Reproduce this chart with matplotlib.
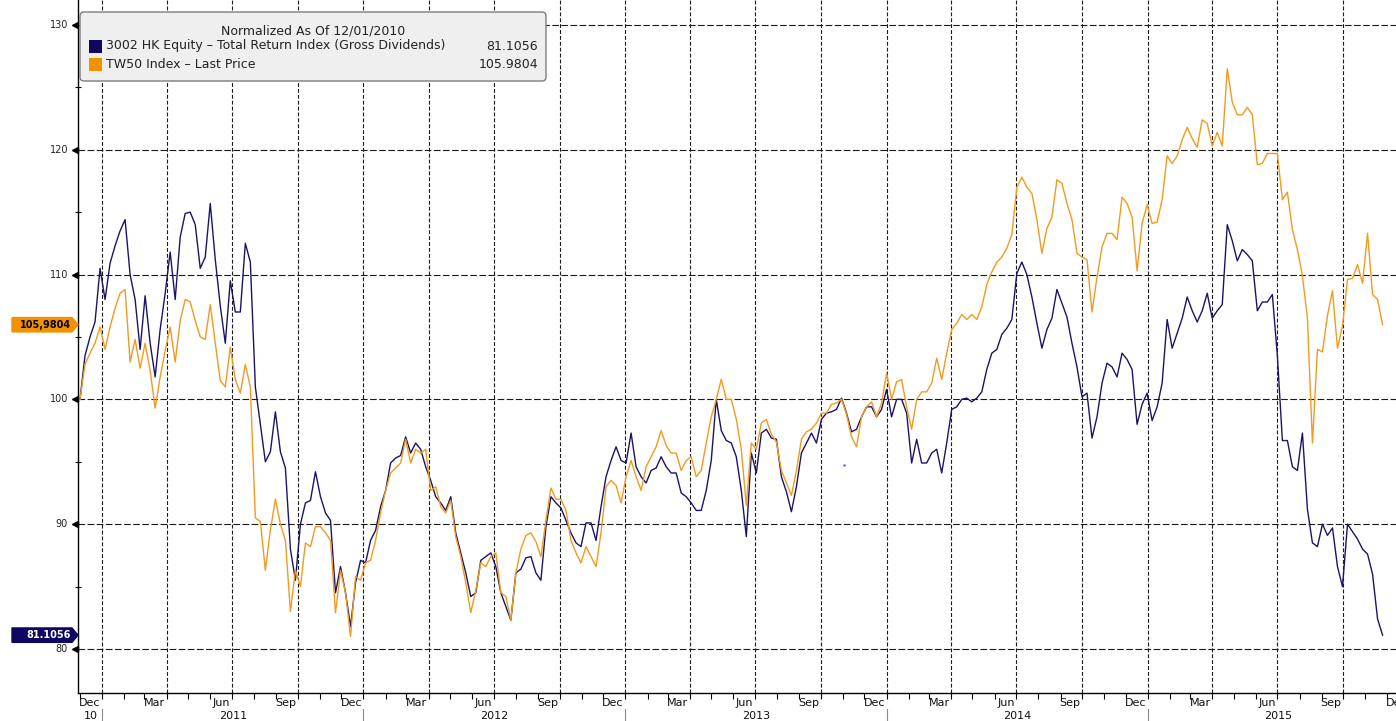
import numpy as np
import pandas as pd
import matplotlib
matplotlib.use("Agg")
import matplotlib.pyplot as plt
import matplotlib.dates as mdates
import matplotlib.transforms as mtransforms
from matplotlib.patches import FancyBboxPatch, Polygon, Rectangle
from matplotlib.lines import Line2D

# ---------------- data (weekly readings, normalized to 100 on 2010-12-01) ----------------
START_DATE = "2010-12-01"
STEP = "7D"

equity_values = [
    100.0, 103.5, 105.0, 106.2, 110.5, 108.0, 110.9, 112.3, 113.5, 114.4,
    110.0, 108.0, 104.0, 108.3, 104.5, 101.8, 105.6, 108.5, 111.8, 108.0,
    113.0, 114.9, 115.0, 114.0, 110.5, 111.4, 115.7, 111.2, 107.5, 104.5,
    109.5, 107.0, 107.0, 112.5, 111.0, 101.0, 98.0, 95.0, 95.8, 99.0,
    95.8, 94.5, 88.0, 85.5, 90.0, 91.7, 91.9, 94.2, 92.2, 90.9,
    90.3, 84.5, 86.6, 84.5, 81.8, 85.3, 87.1, 86.9, 88.7, 89.5,
    91.4, 92.7, 94.9, 95.3, 95.5, 97.0, 95.7, 96.5, 96.0, 94.6,
    93.5, 92.2, 91.7, 91.1, 92.2, 89.3, 87.7, 86.1, 84.2, 84.5,
    87.1, 87.4, 87.7, 86.6, 84.5, 83.4, 82.3, 86.1, 86.4, 87.3,
    87.4, 86.1, 85.5, 89.8, 92.2, 91.7, 91.3, 90.3, 89.3, 88.5,
    88.2, 90.1, 90.1, 88.7, 91.4, 93.8, 95.1, 96.2, 95.1, 94.9,
    97.3, 94.6, 93.8, 93.3, 94.3, 94.5, 95.4, 94.6, 94.1, 94.1,
    92.5, 92.2, 91.7, 91.1, 91.1, 92.7, 95.1, 100.0, 97.5, 96.7,
    96.5, 95.4, 92.7, 89.0, 95.7, 94.1, 97.3, 97.6, 96.9, 96.8,
    93.8, 92.6, 91.0, 93.0, 95.7, 96.5, 97.3, 96.5, 98.4, 98.9,
    99.0, 99.2, 100.1, 98.9, 97.4, 97.6, 98.6, 99.4, 99.4, 98.6,
    99.2, 100.8, 98.6, 100.0, 100.0, 98.9, 94.9, 96.8, 94.9, 94.9,
    95.7, 96.0, 94.1, 96.5, 99.2, 99.4, 100.0, 100.1, 99.8, 100.1,
    100.6, 102.4, 103.7, 104.0, 105.2, 105.7, 106.4, 110.1, 111.0, 110.0,
    108.2, 106.1, 104.1, 105.6, 106.5, 108.8, 107.7, 106.6, 104.5, 102.6,
    100.2, 100.5, 96.9, 98.6, 101.3, 102.9, 102.6, 101.8, 103.7, 103.2,
    102.4, 98.0, 99.6, 100.5, 98.3, 99.4, 101.3, 106.4, 104.1, 105.3,
    106.5, 108.2, 107.1, 106.2, 107.1, 108.5, 106.5, 107.1, 107.6, 114.0,
    112.7, 111.1, 112.0, 111.6, 111.1, 107.1, 107.8, 107.8, 108.4, 103.5,
    96.7, 96.7, 94.6, 94.3, 97.3, 91.2, 88.5, 88.2, 90.0, 89.1,
    89.7, 86.6, 85.0, 90.0, 89.4, 88.8, 88.0, 87.6, 86.0, 82.4,
    81.1056,
]

tw50_values = [
    100.0, 102.8, 103.7, 104.5, 105.8, 104.0, 105.8, 107.3, 108.5, 108.8,
    103.0, 104.8, 102.5, 104.5, 102.3, 99.3, 101.8, 103.9, 105.8, 103.0,
    106.3, 108.0, 107.8, 106.3, 105.0, 104.8, 107.6, 104.5, 101.5, 101.0,
    104.2, 101.6, 100.5, 102.8, 101.0, 90.5, 90.2, 86.3, 89.5, 92.0,
    90.0, 88.7, 83.0, 86.3, 85.0, 88.5, 88.2, 89.8, 89.8, 89.3,
    88.7, 82.9, 86.3, 84.5, 81.0, 85.8, 85.5, 86.9, 87.1, 88.7,
    90.9, 92.7, 94.1, 94.5, 94.9, 96.8, 94.9, 96.0, 95.7, 96.0,
    92.7, 93.0, 91.4, 90.9, 91.9, 89.0, 87.4, 85.3, 82.9, 84.7,
    86.9, 86.6, 87.4, 87.7, 84.5, 84.2, 82.3, 86.1, 88.0, 89.1,
    89.3, 88.6, 87.4, 90.3, 92.9, 92.0, 92.0, 91.1, 88.7, 87.7,
    86.9, 88.2, 87.4, 86.6, 89.3, 93.0, 93.5, 93.1, 91.7, 93.8,
    95.1, 93.8, 92.7, 94.6, 95.4, 96.2, 97.5, 96.3, 95.7, 95.7,
    94.3, 95.1, 95.4, 93.8, 94.3, 96.5, 98.6, 100.0, 101.6, 100.0,
    100.0, 98.4, 96.0, 91.5, 96.5, 96.0, 98.1, 98.4, 97.2, 96.6,
    94.3, 93.3, 92.3, 94.3, 96.8, 97.4, 97.6, 98.1, 98.9, 98.9,
    99.6, 99.7, 100.0, 98.8, 97.0, 96.2, 98.6, 99.4, 99.8, 98.6,
    99.7, 102.1, 100.0, 101.4, 101.6, 99.4, 97.6, 100.0, 100.6, 100.6,
    101.3, 103.3, 101.6, 103.7, 105.6, 106.1, 106.8, 106.4, 106.8, 106.4,
    107.4, 109.2, 110.2, 111.0, 111.4, 112.1, 113.2, 117.0, 117.8, 117.0,
    116.5, 114.4, 111.7, 113.7, 114.6, 117.6, 117.3, 115.7, 114.4, 111.7,
    111.4, 111.2, 107.0, 109.8, 112.2, 113.3, 113.3, 112.8, 116.2, 115.7,
    114.6, 110.3, 114.1, 115.6, 114.1, 114.2, 116.0, 119.5, 118.9, 119.5,
    120.8, 121.8, 120.9, 120.2, 122.4, 122.1, 120.3, 121.4, 120.3, 126.5,
    123.8, 122.8, 122.8, 123.4, 122.8, 118.8, 118.9, 119.7, 119.7, 119.7,
    116.0, 116.6, 113.6, 112.0, 109.9, 106.5, 96.5, 104.0, 103.8, 106.7,
    108.7, 104.1, 105.9, 109.6, 109.7, 110.8, 109.3, 113.3, 108.4, 108.0,
    105.9804,
]

stray_dates = ["2013-11-02"]
stray_values = [94.7]

series_names = ["3002 HK Equity \u2013 Total Return Index (Gross Dividends)",
                "TW50 Index \u2013 Last Price"]
legend_values = ["81.1056", "105.9804"]
tag_texts = ["81.1056", "105,9804"]
legend_title = "Normalized As Of 12/01/2010"
y_ticks = [80, 90, 100, 110, 120, 130]
y_minor = [85, 95, 105, 115, 125]
quarter_label = {1: "Dec", 4: "Mar", 7: "Jun", 10: "Sep"}
first_year_label = "10"
years = [2011, 2012, 2013, 2014, 2015]

NAVY = "#1A1466"
NAVY_BOX = "#0E0660"
ORANGE = "#F39A1E"
ORANGE_BOX = "#F29200"

# ---------------- figure ----------------
W, H = 1396, 721
fig = plt.figure(figsize=(W / 100, H / 100), dpi=100)
AX_L, AX_B_PX = 78, 693
ax = fig.add_axes([AX_L / W, (H - AX_B_PX) / H, 1 - AX_L / W, AX_B_PX / H])

dates = pd.date_range(START_DATE, periods=len(equity_values), freq=STEP)
x0 = mdates.date2num(pd.Timestamp(START_DATE))
px_per_day = 0.7157
ax.set_xlim(x0 - 2.0 / px_per_day, x0 + (W - 80) / px_per_day)
ax.set_ylim(76.47, 132.0)

# grid
qdates = pd.date_range("2011-01-01", "2016-01-01", freq="QS-JAN")
for d in qdates:
    ax.axvline(d, color="#1a1a1a", lw=0.8, dashes=(3.5, 1.8), zorder=1)
for yv in y_ticks:
    ax.axhline(yv, color="#1a1a1a", lw=0.8, dashes=(6, 2.2), zorder=1)

# series
ax.plot(dates, equity_values, color=NAVY, lw=1.0, zorder=3, solid_joinstyle="round")
ax.plot(dates, tw50_values, color=ORANGE, lw=1.0, zorder=4, solid_joinstyle="round")
ax.plot(pd.to_datetime(stray_dates), stray_values, ls="none", marker="s", ms=1.5,
        color="#3a3aff", mec="none", zorder=4)

# spines / ticks
for s in ["top", "right"]:
    ax.spines[s].set_visible(False)
ax.spines["left"].set_linewidth(1.0)
ax.spines["bottom"].set_linewidth(1.0)
ax.xaxis.set_major_locator(mdates.MonthLocator(bymonth=[1, 4, 7, 10]))
ax.xaxis.set_minor_locator(mdates.MonthLocator())
ax.tick_params(axis="x", which="both", direction="out", length=4, width=0.8,
               labelbottom=False)
ax.set_yticks(y_ticks)
ax.set_yticks(y_minor, minor=True)
ax.tick_params(axis="y", which="major", length=0, labelleft=False)
ax.tick_params(axis="y", which="minor", direction="inout", length=5, width=0.8)


def ax_x(px):
    return (px - AX_L) / (W - AX_L)


blend_y = mtransforms.blended_transform_factory(ax.transAxes, ax.transData)
for yv in y_ticks:
    ax.text(ax_x(68), yv, str(yv), transform=blend_y, ha="right", va="center",
            fontsize=7, color="#222222", clip_on=False)
ax.plot([ax_x(74.5)] * len(y_ticks), y_ticks, ls="none", marker="<", ms=4.5,
        color="black", transform=blend_y, clip_on=False)

# value tags on the left
half = 7.2 / 12.48
for val, txt, face, tc in [(tw50_values[-1], tag_texts[1], ORANGE_BOX, "black"),
                           (equity_values[-1], tag_texts[0], NAVY_BOX, "white")]:
    pts = [(ax_x(12), val - half), (ax_x(72), val - half), (ax_x(78), val),
           (ax_x(72), val + half), (ax_x(12), val + half)]
    poly = Polygon(pts, closed=True, transform=blend_y, facecolor=face,
                   edgecolor=face, clip_on=False, zorder=5)
    ax.add_patch(poly)
    ax.text(ax_x(71), val, txt, transform=blend_y, ha="right", va="center",
            fontsize=7, fontweight="bold", color=tc, clip_on=False, zorder=6)

# x labels (month row + year row)
blend_x = mtransforms.blended_transform_factory(ax.transData, fig.transFigure)
lab_tr = mtransforms.offset_copy(blend_x, fig=fig, x=-1.5, y=0, units="dots")
row1 = 1 - 703 / H
row2 = 1 - 716 / H
for d in qdates:
    ax.text(mdates.date2num(d), row1, quarter_label[d.month], transform=lab_tr,
            ha="right", va="center", fontsize=8, color="#111111", clip_on=False)
ax.text(x0 - 2.0 / px_per_day + 12.5 / px_per_day, row2, first_year_label,
        transform=blend_x, ha="center", va="center", fontsize=8, color="#111111",
        clip_on=False)
for yr in years:
    a = mdates.date2num(pd.Timestamp(f"{yr}-01-01"))
    b = mdates.date2num(pd.Timestamp(f"{yr + 1}-01-01"))
    ax.text((a + b) / 2, row2, str(yr), transform=blend_x, ha="center", va="center",
            fontsize=8, color="#111111", clip_on=False)
    ln = Line2D([a, a], [1 - 709 / H, 0.0], transform=blend_x, color="#8a8a8a",
                lw=0.8, clip_on=False)
    ax.add_line(ln)

# legend box (pixel coordinates)
ident = mtransforms.IdentityTransform()
box = FancyBboxPatch((80, H - 81), 466, 69, boxstyle="round,pad=0,rounding_size=4",
                     transform=ident, facecolor="#EFEFEF", edgecolor="#7d7d7d",
                     lw=1.0, zorder=10)
fig.add_artist(box)


def fxy(px, py):
    return px / W, 1 - py / H


fig.text(*fxy(313, 31), legend_title, ha="center", va="center", fontsize=9,
         color="#222222", zorder=11)
for i, (name, val, col) in enumerate(zip(series_names, legend_values,
                                         [NAVY_BOX, ORANGE_BOX])):
    yc = 46 + 18 * i
    sq = Rectangle((89, H - yc - 6.5), 13, 13, transform=ident, facecolor=col,
                   edgecolor="none", zorder=11)
    fig.add_artist(sq)
    fig.text(*fxy(106, yc), name, ha="left", va="center", fontsize=9,
             color="#222222", zorder=11)
    fig.text(*fxy(538, yc), val, ha="right", va="center", fontsize=9,
             color="#222222", zorder=11)

fig.savefig("out.png", dpi=100)
